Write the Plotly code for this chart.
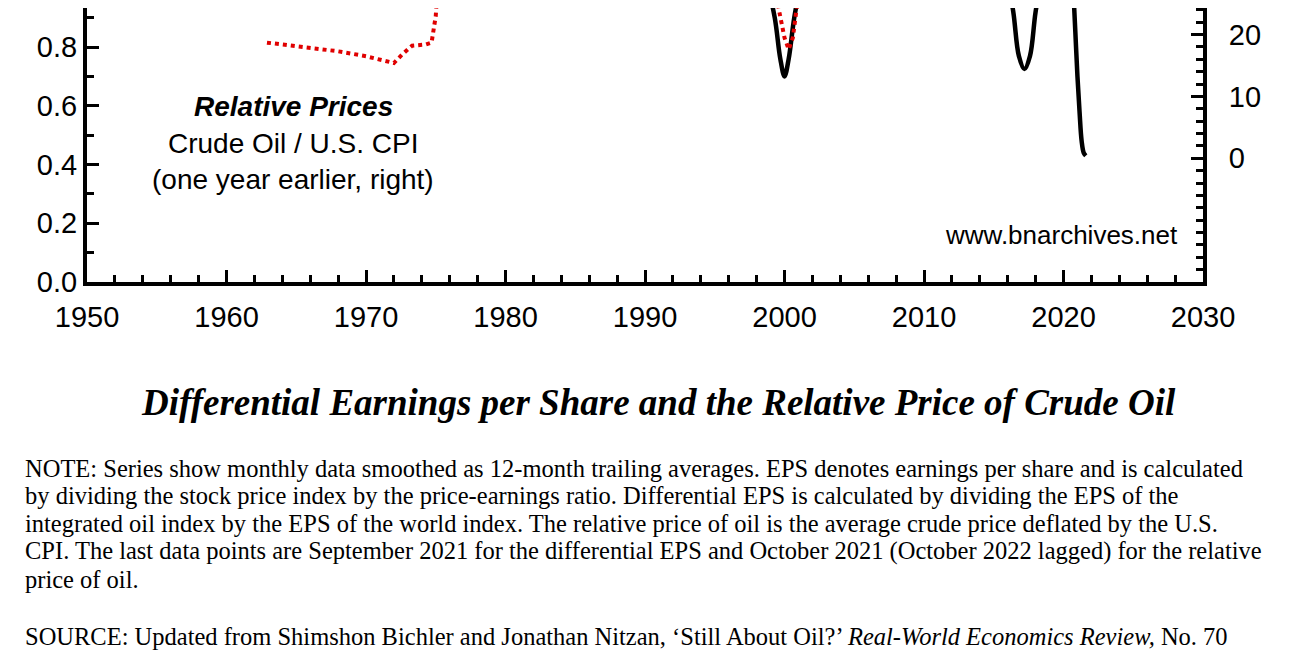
import plotly.graph_objects as go

# Differential EPS (left axis) - visible segments
eps_x1 = [1998.6, 1999.3, 1999.7, 2000.0, 2000.3, 2000.7, 2001.3]
eps_y1 = [1.05, 0.90, 0.76, 0.70, 0.76, 0.90, 1.05]
eps_x2 = [2015.9, 2016.4, 2016.8, 2017.2, 2017.6, 2018.0, 2018.5]
eps_y2 = [1.05, 0.92, 0.77, 0.725, 0.77, 0.92, 1.05]
eps_x3 = [2020.7, 2020.85, 2021.0, 2021.15, 2021.3, 2021.45, 2021.6]
eps_y3 = [1.00, 0.85, 0.70, 0.58, 0.48, 0.44, 0.43]

# Relative oil price (right axis)
oil_x1 = [1962.9, 1965, 1968, 1970, 1972.0, 1972.6, 1973.3, 1974.3, 1974.7, 1975.0, 1975.2]
oil_y1 = [18.7, 18.1, 17.3, 16.5, 15.4, 16.8, 18.2, 18.4, 18.7, 23.0, 30.0]
oil_x2 = [1999.2, 1999.6, 2000.0, 2000.3, 2000.6, 2000.9, 2001.2]
oil_y2 = [30.0, 24.0, 19.5, 17.6, 19.5, 24.0, 30.0]

fig = go.Figure()
for xs, ys in [(eps_x1, eps_y1), (eps_x2, eps_y2), (eps_x3, eps_y3)]:
    fig.add_trace(go.Scatter(x=xs, y=ys, mode="lines", line=dict(color="black", width=4.5, shape="spline"),
                             showlegend=False, yaxis="y"))
for xs, ys in [(oil_x1, oil_y1), (oil_x2, oil_y2)]:
    fig.add_trace(go.Scatter(x=xs, y=ys, mode="lines", line=dict(color="#e00000", width=4, dash="dot"),
                             showlegend=False, yaxis="y2"))

W, H = 1300, 650
x0, x1 = 79 / W, 1195 / W
ytop, ybot = 1.0, 1 - 274 / H
tickfont = dict(family="Liberation Sans, Arial", size=29, color="black")

fig.update_layout(
    width=W, height=H, margin=dict(l=0, r=0, t=0, b=0, autoexpand=False),
    paper_bgcolor="white", plot_bgcolor="white",
    xaxis=dict(domain=[x0, x1], range=[1950, 2030], tickvals=[1950, 1960, 1970, 1980, 1990, 2000, 2010, 2020, 2030],
               ticks="inside", ticklen=12, tickwidth=3, tickcolor="black", automargin=False,
               minor=dict(dtick=2, ticks="inside", ticklen=7, tickwidth=3, tickcolor="black"),
               showline=True, linewidth=4, linecolor="black", showgrid=False, zeroline=False,
               tickfont=tickfont, ticklabelstandoff=6),
    yaxis=dict(domain=[ybot, ytop], range=[0, 0.933], tickvals=[0, 0.2, 0.4, 0.6, 0.8, 1.0],
               ticktext=["0.0", "0.2", "0.4", "0.6", "0.8", "1.0"], automargin=False,
               ticks="inside", ticklen=12, tickwidth=3, tickcolor="black",
               minor=dict(dtick=0.1, ticks="inside", ticklen=7, tickwidth=3, tickcolor="black"),
               showline=True, linewidth=4, linecolor="black", showgrid=False, zeroline=False,
               tickfont=tickfont),
    yaxis2=dict(overlaying="y", side="right", anchor="x", range=[-20.0, 24.3], tickvals=[0, 10, 20],
                ticks="inside", ticklen=12, tickwidth=3, tickcolor="black", automargin=False,
                minor=dict(dtick=2, ticks="inside", ticklen=7, tickwidth=3, tickcolor="black"),
                showline=True, linewidth=4, linecolor="black", showgrid=False, zeroline=False,
                tickfont=tickfont, ticklabelstandoff=16),
)

def ann(text, x, y, size, family="Liberation Sans, Arial", xanchor="center"):
    fig.add_annotation(text=text, x=x / W, y=1 - y / H, xref="paper", yref="paper", showarrow=False,
                       xanchor=xanchor, yanchor="middle", font=dict(family=family, size=size, color="black"))

ann("<b><i>Relative Prices</i></b>", 285, 99, 28)
ann("Crude Oil / U.S. CPI", 285, 135, 28)
ann("(one year earlier, right)", 285, 171, 28)
ann("www.bnarchives.net", 1172, 227, 26, xanchor="right")
ann("<b><i>Differential Earnings per Share and the Relative Price of Crude Oil</i></b>", 650, 395, 37,
    family="Liberation Serif, Times New Roman")

notes = [
    (460, "NOTE: Series show monthly data smoothed as 12-month trailing averages. EPS denotes earnings per share and is calculated"),
    (487, "by dividing the stock price index by the price-earnings ratio. Differential EPS is calculated by dividing the EPS of the"),
    (515, "integrated oil index by the EPS of the world index. The relative price of oil is the average crude price deflated by the U.S."),
    (543, "CPI. The last data points are September 2021 for the differential EPS and October 2021 (October 2022 lagged) for the relative"),
    (571, "price of oil."),
    (628, "SOURCE: Updated from Shimshon Bichler and Jonathan Nitzan, ‘Still About Oil?’ <i>Real-World Economics Review,</i> No. 70"),
]
for y, t in notes:
    ann(t, 15, y, 24.5, family="Liberation Serif, Times New Roman", xanchor="left")

fig.write_html("out.html")
